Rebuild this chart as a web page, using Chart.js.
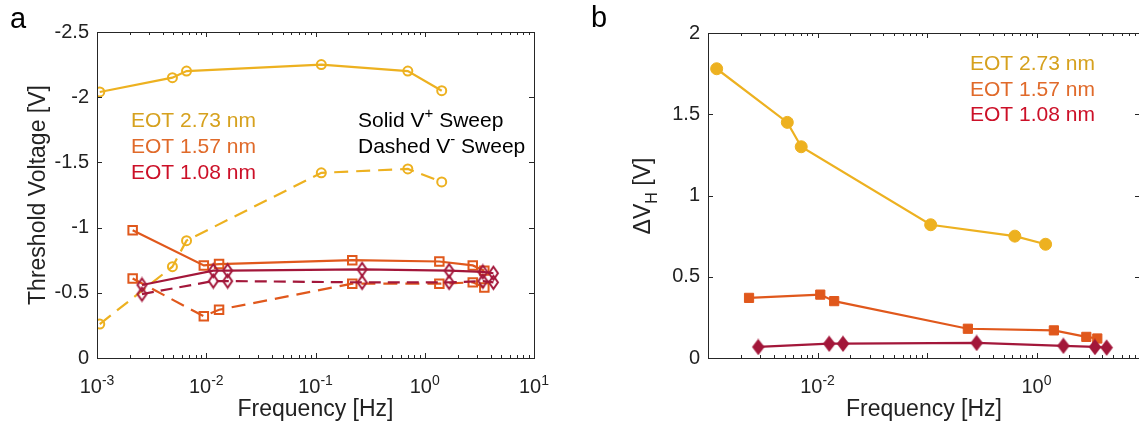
<!DOCTYPE html>
<html>
<head>
<meta charset="utf-8">
<script src="https://cdn.jsdelivr.net/npm/chart.js@4.4.1/dist/chart.umd.min.js"></script>
<style>
html, body { margin: 0; padding: 0; background: #fff; overflow: hidden; }
#wrapA { position: absolute; left: 0; top: 0; width: 580px; height: 429px; }
#wrapB { position: absolute; left: 580px; top: 0; width: 580px; height: 429px; }
</style>
</head>
<body>
<div id="wrapA"><canvas id="chartA" width="580" height="429"></canvas></div>
<div id="wrapB"><canvas id="chartB" width="580" height="429"></canvas></div>
<script>
// panel a: threshold voltage vs sweep frequency
const freqA273 = [0.00106, 0.0049, 0.0066, 0.113, 0.70, 1.43]
const vthPos273 = [-2.04, -2.15, -2.20, -2.25, -2.20, -2.05]
const vthNeg273 = [-0.26, -0.70, -0.90, -1.42, -1.45, -1.35]
const freqA157 = [0.00212, 0.0095, 0.0131, 0.217, 1.36, 2.75, 3.51]
const vthPos157 = [-0.98, -0.71, -0.72, -0.75, -0.74, -0.71, -0.67]
const vthNeg157 = [-0.61, -0.32, -0.37, -0.57, -0.57, -0.58, -0.54]
const freqA108 = [0.00258, 0.0116, 0.0157, 0.267, 1.67, 3.40, 4.25]
const vthPos108 = [-0.56, -0.67, -0.67, -0.68, -0.67, -0.66, -0.65]
const vthNeg108 = [-0.49, -0.59, -0.59, -0.58, -0.58, -0.59, -0.58]

// panel b: hysteresis width vs sweep frequency
const freqB273 = [0.0012, 0.0053, 0.0071, 0.108, 0.634, 1.21]
const dvh273 = [1.78, 1.45, 1.30, 0.82, 0.75, 0.70]
const freqB157 = [0.00237, 0.0106, 0.0142, 0.236, 1.44, 2.85, 3.59]
const dvh157 = [0.37, 0.39, 0.35, 0.18, 0.17, 0.13, 0.12]
const freqB108 = [0.00288, 0.0128, 0.0171, 0.284, 1.76, 3.42, 4.37]
const dvh108 = [0.068, 0.088, 0.088, 0.093, 0.075, 0.068, 0.064]

const legendLabels = ['EOT 2.73 nm', 'EOT 1.57 nm', 'EOT 1.08 nm']
const tickExpA = [-3, -2, -1, 0, 1]
const tickExpB = [-2, 0]

const FONT = "'Liberation Sans', Arial, sans-serif"
const cGold = '#EDB120', cOrange = '#E0581C', cRed = '#A3173A'
const txtColors = ['#D6A11E', '#E06A2A', '#CC1028']

function diamond(color, filled, w, h) {
	const c = document.createElement('canvas')
	c.width = w + 4
	c.height = h + 4
	const g = c.getContext('2d')
	g.beginPath()
	g.moveTo(c.width / 2, 2)
	g.lineTo(c.width - 2, c.height / 2)
	g.lineTo(c.width / 2, c.height - 2)
	g.lineTo(2, c.height / 2)
	g.closePath()
	g.lineWidth = 2
	g.strokeStyle = color
	if (filled) { g.fillStyle = color; g.fill() }
	g.stroke()
	return c
}

function series(xs, ys, color, style, opts) {
	opts = opts || {}
	return {
		data: xs.map((x, i) => ({x: x, y: ys[i]})),
		borderColor: color,
		backgroundColor: color,
		borderWidth: 2.2,
		borderDash: opts.dash || [],
		pointStyle: style,
		pointRadius: opts.r || 5,
		pointBorderColor: color,
		pointBackgroundColor: opts.filled ? color : 'rgba(0,0,0,0)',
		pointBorderWidth: opts.pw || 2,
		tension: 0,
		fill: false
	}
}

function drawRich(ctx, it) {
	ctx.save()
	ctx.translate(it.x, it.y)
	if (it.rot) ctx.rotate(it.rot)
	ctx.fillStyle = it.color || '#222'
	ctx.textBaseline = 'alphabetic'
	ctx.textAlign = 'left'
	let segs = it.parts.map(p => {
		let size = (p.sup || p.sub) ? Math.round(it.size * 0.7) : it.size
		ctx.font = size + 'px ' + FONT
		return {t: p.t, size: size, w: ctx.measureText(p.t).width,
			dy: p.sup ? -it.size * 0.42 : (p.sub ? it.size * 0.3 : 0)}
	})
	let total = segs.reduce((s, g) => s + g.w, 0)
	let cx = it.align === 'center' ? -total / 2 : 0
	segs.forEach(g => {
		ctx.font = g.size + 'px ' + FONT
		ctx.fillText(g.t, cx, g.dy)
		cx += g.w
	})
	ctx.restore()
}

// box, inward ticks (matlab style), log tick labels and free text
const framePlugin = {
	id: 'frame',
	afterDraw(chart, args, opts) {
		const ctx = chart.ctx
		const a = chart.chartArea
		const x = chart.scales.x, y = chart.scales.y
		ctx.save()
		ctx.strokeStyle = '#262626'
		ctx.lineWidth = 1
		ctx.strokeRect(Math.round(a.left) + 0.5, Math.round(a.top) + 0.5,
			Math.round(a.right - a.left), Math.round(a.bottom - a.top))
		ctx.beginPath()
		for (let k = -3; k <= 1; k++) {
			for (let m = 1; m <= 9; m++) {
				let v = m * Math.pow(10, k)
				if (v < x.min * 0.999 || v > x.max * 1.001) continue
				let px = Math.round(x.getPixelForValue(v)) + 0.5
				let len = m === 1 ? 5 : 3
				ctx.moveTo(px, a.bottom); ctx.lineTo(px, a.bottom - len)
				ctx.moveTo(px, a.top); ctx.lineTo(px, a.top + len)
			}
		}
		y.ticks.forEach(t => {
			let py = Math.round(y.getPixelForValue(t.value)) + 0.5
			ctx.moveTo(a.left, py); ctx.lineTo(a.left + 5, py)
			ctx.moveTo(a.right, py); ctx.lineTo(a.right - 5, py)
		})
		ctx.stroke()
		opts.tickExp.forEach(e => {
			drawRich(ctx, {x: x.getPixelForValue(Math.pow(10, e)), y: a.bottom + 35, size: 20,
				align: 'center', parts: [{t: '10'}, {t: String(e), sup: true}]})
		})
		opts.texts.forEach(t => drawRich(ctx, t))
		ctx.restore()
	}
}

function axisY(min, max, width, title) {
	return {
		min: min, max: max, reverse: min < 0,
		ticks: {stepSize: 0.5, color: '#222', padding: 8, font: {family: FONT, size: 20},
			callback: v => String(Math.round(v * 100) / 100)},
		grid: {display: false, drawTicks: false},
		border: {display: false},
		title: {display: !!title, text: title || '', color: '#222', font: {family: FONT, size: 23},
			padding: {top: 25, bottom: 0}},
		afterFit: s => { s.width = width }
	}
}

function axisX(max) {
	return {
		type: 'logarithmic', min: 1e-3, max: max,
		ticks: {display: false},
		grid: {display: false, drawTicks: false},
		border: {display: false},
		title: {display: true, text: 'Frequency [Hz]', color: '#222', font: {family: FONT, size: 23},
			padding: {top: 0, bottom: 6}},
		afterFit: s => { s.height = 71 }
	}
}

const legendA = legendLabels.map((l, i) => ({x: 131, y: 127 + i * 26, size: 21, color: txtColors[i], parts: [{t: l}]}))
const legendB = legendLabels.map((l, i) => ({x: 390, y: 70 + i * 25.5, size: 21, color: txtColors[i], parts: [{t: l}]}))

new Chart(document.getElementById('chartA'), {
	type: 'line',
	data: {
		datasets: [
			series(freqA108, vthPos108, cRed, diamond(cRed, false, 9, 13), {r: 6}),
			series(freqA108, vthNeg108, cRed, diamond(cRed, false, 9, 13), {r: 6, dash: [12, 7]}),
			series(freqA157, vthPos157, cOrange, 'rect', {r: 6}),
			series(freqA157, vthNeg157, cOrange, 'rect', {r: 6, dash: [14, 8]}),
			series(freqA273, vthPos273, cGold, 'circle', {r: 4.5}),
			series(freqA273, vthNeg273, cGold, 'circle', {r: 4.5, dash: [14, 8]})
		]
	},
	options: {
		responsive: false,
		animation: false,
		devicePixelRatio: 1,
		layout: {padding: {top: 32, right: 46, left: 0, bottom: 0}},
		scales: {
			x: axisX(10),
			y: axisY(-2.5, 0, 97, 'Threshold Voltage [V]')
		},
		plugins: {
			legend: {display: false},
			tooltip: {enabled: false},
			frame: {
				tickExp: tickExpA,
				texts: [
					{x: 10, y: 28, size: 29, color: '#000', parts: [{t: 'a'}]},
					{x: 358, y: 127, size: 21, color: '#000', parts: [{t: 'Solid V'}, {t: '+', sup: true}, {t: ' Sweep'}]},
					{x: 358, y: 153, size: 21, color: '#000', parts: [{t: 'Dashed V'}, {t: '-', sup: true}, {t: ' Sweep'}]}
				].concat(legendA)
			}
		}
	},
	plugins: [framePlugin]
})

new Chart(document.getElementById('chartB'), {
	type: 'line',
	data: {
		datasets: [
			series(freqB108, dvh108, cRed, diamond(cRed, true, 10, 13), {r: 6, filled: true}),
			series(freqB157, dvh157, cOrange, 'rect', {r: 6.5, filled: true, pw: 1}),
			series(freqB273, dvh273, cGold, 'circle', {r: 6, filled: true, pw: 1})
		]
	},
	options: {
		responsive: false,
		animation: false,
		devicePixelRatio: 1,
		layout: {padding: {top: 33, right: 20, left: 0, bottom: 0}},
		scales: {
			x: axisX(Math.pow(10, 0.945)),
			y: axisY(0, 2, 128, '')
		},
		plugins: {
			legend: {display: false},
			tooltip: {enabled: false},
			frame: {
				tickExp: tickExpB,
				texts: [
					{x: 11, y: 27, size: 29, color: '#000', parts: [{t: 'b'}]},
					{x: 70, y: 196, size: 23, color: '#222', align: 'center', rot: -Math.PI / 2,
						parts: [{t: '\u0394V'}, {t: 'H', sub: true}, {t: ' [V]'}]}
				].concat(legendB)
			}
		}
	},
	plugins: [framePlugin]
})
</script>
</body>
</html>
